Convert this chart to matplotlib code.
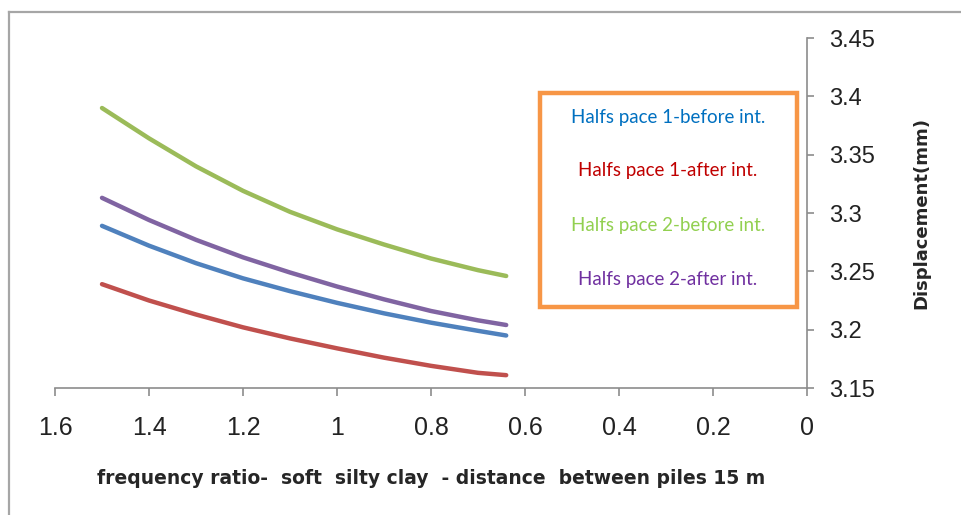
import matplotlib.pyplot as plt
from matplotlib.lines import Line2D
from matplotlib.patches import Rectangle

# frequency ratio (x) and displacement in mm for each half space case
freq_ratio = [1.5, 1.4, 1.3, 1.2, 1.1, 1.0, 0.9, 0.8, 0.7, 0.64]
hs1_before = [3.289, 3.272, 3.257, 3.244, 3.233, 3.223, 3.214, 3.206, 3.199, 3.195]
hs1_after = [3.239, 3.225, 3.213, 3.202, 3.1925, 3.184, 3.176, 3.169, 3.163, 3.161]
hs2_before = [3.390, 3.364, 3.340, 3.319, 3.301, 3.286, 3.273, 3.261, 3.251, 3.246]
hs2_after = [3.313, 3.294, 3.277, 3.262, 3.249, 3.237, 3.226, 3.216, 3.208, 3.204]

labels = ["Halfs pace 1-before int.", "Halfs pace 1-after int.",
          "Halfs pace 2-before int.", "Halfs pace 2-after int."]
line_colors = ["#4F81BD", "#C0504D", "#9BBB59", "#8064A2"]
text_colors = ["#0070C0", "#C00000", "#92D050", "#7030A0"]

xticks = [1.6, 1.4, 1.2, 1, 0.8, 0.6, 0.4, 0.2, 0]
xticklabels = ["1.6", "1.4", "1.2", "1", "0.8", "0.6", "0.4", "0.2", "0"]
yticks = [3.15, 3.2, 3.25, 3.3, 3.35, 3.4, 3.45]
yticklabels = ["3.15", "3.2", "3.25", "3.3", "3.35", "3.4", "3.45"]

W, H = 961, 515
fig = plt.figure(figsize=(W / 100, H / 100), dpi=100)

# chart area frame (left and top edges)
frame_col = "#A6A6A6"
fig.add_artist(Line2D([8.5 / W, 8.5 / W], [0, 1 - 11.5 / H],
                      transform=fig.transFigure, color=frame_col, lw=1.6))
fig.add_artist(Line2D([8.5 / W, 1], [1 - 11.5 / H, 1 - 11.5 / H],
                      transform=fig.transFigure, color=frame_col, lw=1.6))

ax = fig.add_axes([55 / W, 1 - 388 / H, 752 / W, 350 / H])

series = [hs1_before, hs1_after, hs2_before, hs2_after]
for vals, col, lab in zip(series, line_colors, labels):
    ax.plot(freq_ratio, vals, color=col, lw=3.2, solid_capstyle="round",
            solid_joinstyle="round", label=lab)

ax.set_xlim(1.6, 0)
ax.set_ylim(3.15, 3.45)
ax.set_xticks(xticks)
ax.set_xticklabels(xticklabels, family="Liberation Sans")
ax.set_yticks(yticks)
ax.set_yticklabels(yticklabels, family="Liberation Sans")

ax.yaxis.tick_right()
ax.yaxis.set_label_position("right")
for side in ["top", "left"]:
    ax.spines[side].set_visible(False)
for side in ["bottom", "right"]:
    ax.spines[side].set_color("#8C8C8C")
    ax.spines[side].set_linewidth(1.2)

ax.tick_params(axis="x", direction="out", length=6, width=1.2, color="#8C8C8C",
               labelsize=18, labelcolor="#222222", pad=14)
ax.tick_params(axis="y", direction="out", length=5, width=1.2, color="#8C8C8C",
               labelsize=17, labelcolor="#222222", pad=11)

ax.set_xlabel("frequency ratio-  soft  silty clay  - distance  between piles 15 m",
              family="DejaVu Sans", fontsize=13.5, fontweight="bold", color="#262626",
              labelpad=21)
ax.set_ylabel("Displacement(mm)", family="DejaVu Sans", fontsize=13,
              fontweight="bold", color="#262626", labelpad=27)

# series key: coloured names inside an orange box
fig.add_artist(Rectangle((540 / W, 1 - 307 / H), 257 / W, 214 / H,
                         transform=fig.transFigure, facecolor="white",
                         edgecolor="#F79646", lw=3.2))
key_y = [118, 171, 225, 279]
for lab, col, y in zip(labels, text_colors, key_y):
    fig.text(668 / W, 1 - y / H, lab, color=col, family="Lato", fontsize=13.5,
             ha="center", va="center")

fig.savefig("out.png", dpi=100)
